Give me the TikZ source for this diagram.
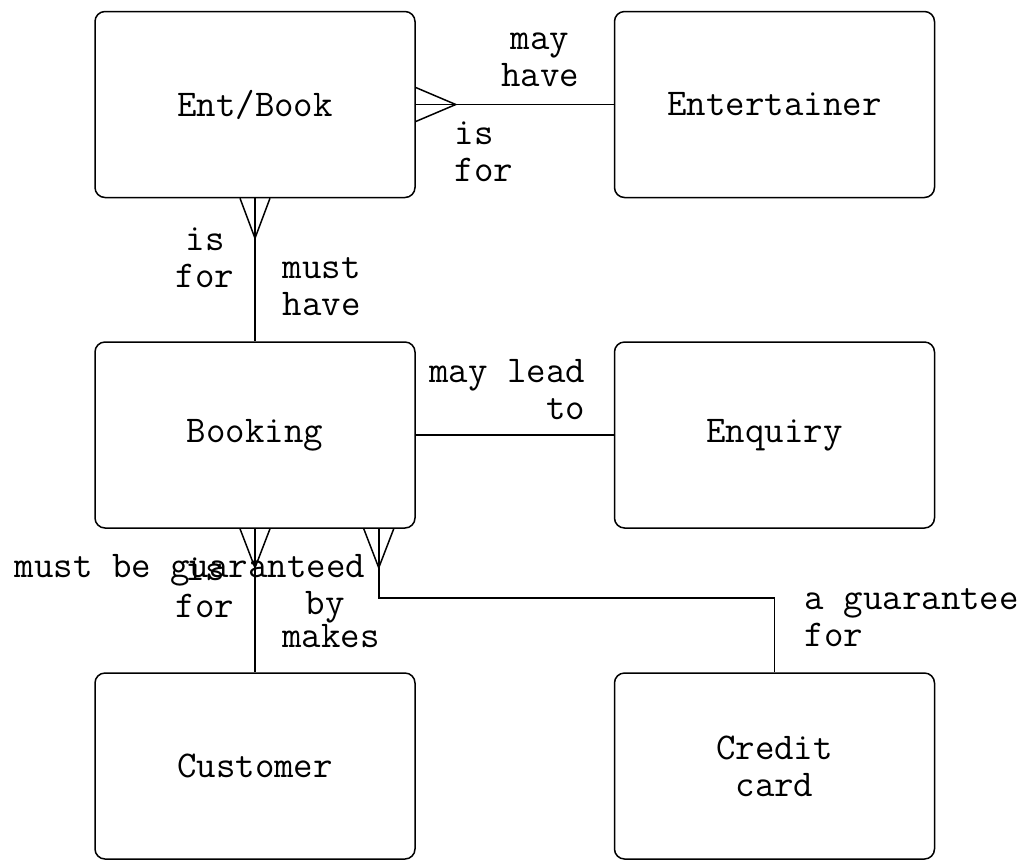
\documentclass[tikz,border=0pt]{standalone}
\usepackage{fontspec}

\begin{document}
\begin{tikzpicture}[x=0.5pt, y=-0.5pt, line width=0.75pt,
  entity/.style={draw, rounded corners=5pt, minimum width=160pt, minimum height=93pt,
    inner sep=0pt, font=\ttfamily\fontsize{18.9}{18.5}\selectfont, align=center},
  lbl/.style={inner sep=0pt, font=\ttfamily\fontsize{18.9}{18.5}\selectfont}]
  \useasboundingbox (0,0) rectangle (1024,859);
  % entities
  \node[entity] (entbook) at (255,104.5) {Ent/Book};
  \node[entity] (entertainer) at (774.5,104.5) {Entertainer};
  \node[entity] (booking) at (255,435) {Booking};
  \node[entity] (enquiry) at (774.5,435) {Enquiry};
  \node[entity] (customer) at (255,766) {Customer};
  \node[entity] (credit) at (774.5,766) {Credit\\card};
  % relationships
  \draw (entbook.east) -- (entertainer.west);
  \draw ([yshift=8.5pt]entbook.east) -- ([xshift=20pt]entbook.east) -- ([yshift=-8.5pt]entbook.east);
  \draw (entbook.south) -- (booking.north);
  \draw ([xshift=-7.5pt]entbook.south) -- ([yshift=-20pt]entbook.south) -- ([xshift=7.5pt]entbook.south);
  \draw (booking.east) -- (enquiry.west);
  \draw (booking.south) -- (customer.north);
  \draw ([xshift=-7.5pt]booking.south) -- ([yshift=-19.5pt]booking.south) -- ([xshift=7.5pt]booking.south);
  \coordinate (cc) at ([xshift=-18.5pt]booking.south east);
  \draw (cc) -- ++(0,69) -| (credit.north);
  \draw ([xshift=-7.5pt]cc) -- ([yshift=-19.5pt]cc) -- ([xshift=7.5pt]cc);
  % labels
  \node[lbl, align=center] (l1) at (540,60) {may\\have};
  \node[lbl, align=left, anchor=west] (l2) at (454,152) {is\\for};
  \node[lbl, align=center] (l3) at (205,258) {is\\for};
  \node[lbl, align=left, anchor=west] (l4) at (282,287) {must\\have};
  \node[lbl, align=right, anchor=east] (l5) at (586,390) {may lead\\to};
  \node[lbl, align=center] (l6) at (205,588) {is\\for};
  \node[lbl] (l7) at (190,570) {must be guaranteed};
  \node[lbl] (l8) at (325,607) {by};
  \node[lbl] (l9) at (331,636) {makes};
  \node[lbl, align=left, anchor=west] (l10) at (804,618) {a guarantee\\for};
\end{tikzpicture}
\end{document}
